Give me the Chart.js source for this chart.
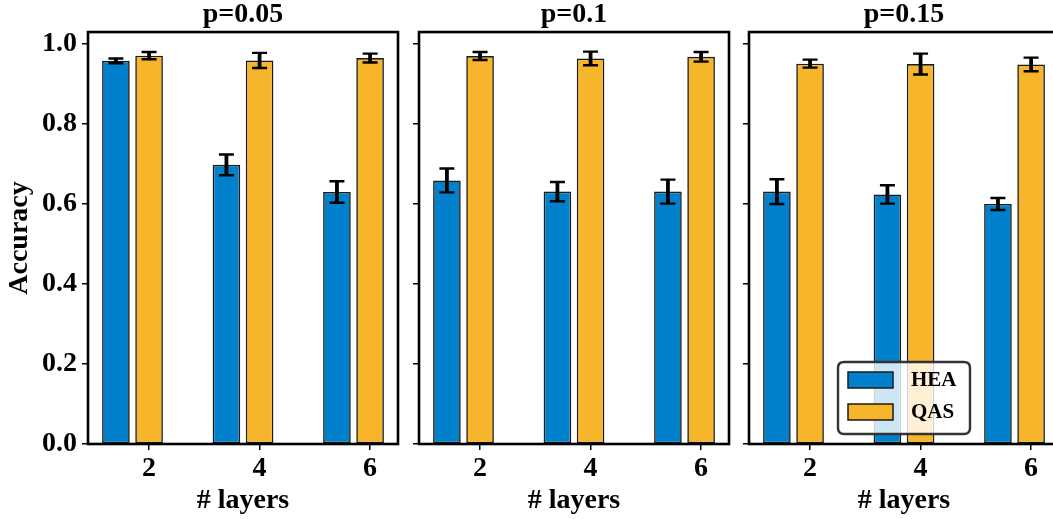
<!DOCTYPE html>
<html>
<head>
<meta charset="utf-8">
<script src="https://cdn.jsdelivr.net/npm/chart.js@4.4.1/dist/chart.umd.min.js"></script>
<style>
  html, body { margin: 0; padding: 0; background: #ffffff; }
  #wrap { position: relative; width: 1053px; height: 519px; overflow: hidden; background: #ffffff; }
  canvas { position: absolute; top: 0; }
</style>
</head>
<body>
<div id="wrap">
  <canvas id="c0" width="410" height="519" style="left:0px"></canvas>
  <canvas id="c1" width="330" height="519" style="left:410px"></canvas>
  <canvas id="c2" width="330" height="519" style="left:740px"></canvas>
</div>
<script>
// ---------------- data ----------------
const layers = [2, 4, 6];
const seriesNames = ['HEA', 'QAS'];
const panelTitles = ['p=0.05', 'p=0.1', 'p=0.15'];
const yTicks = [0.0, 0.2, 0.4, 0.6, 0.8, 1.0];
const xTicks = [2, 4, 6];

const heaP005 = [0.958, 0.698, 0.630];
const heaErrP005 = [0.006, 0.026, 0.027];
const qasP005 = [0.971, 0.959, 0.965];
const qasErrP005 = [0.009, 0.019, 0.011];

const heaP010 = [0.659, 0.631, 0.631];
const heaErrP010 = [0.030, 0.024, 0.030];
const qasP010 = [0.970, 0.964, 0.968];
const qasErrP010 = [0.010, 0.017, 0.012];

const heaP015 = [0.631, 0.624, 0.600];
const heaErrP015 = [0.031, 0.023, 0.015];
const qasP015 = [0.951, 0.950, 0.949];
const qasErrP015 = [0.010, 0.026, 0.017];

// ---------------- style ----------------
const FONT = "'Liberation Serif', 'Times New Roman', Times, serif";
const BLUE = '#0181CB';
const ORANGE = '#F7B52C';
const EDGE = '#1a1a1a';
const OFFSETS = [-0.6, 0.0];   // bar offset from layer value (in x units)
const Y_MAX = 1.03;
const X_MIN = 0.895, X_MAX = 6.505;

Chart.defaults.font.family = FONT;
Chart.defaults.font.weight = 'bold';
Chart.defaults.color = '#000';

const errorBarPlugin = {
  id: 'errorBars',
  afterDatasetsDraw(chart) {
    const ctx = chart.ctx;
    const yScale = chart.scales.y;
    ctx.save();
    ctx.strokeStyle = '#000';
    chart.data.datasets.forEach((ds, d) => {
      const meta = chart.getDatasetMeta(d);
      meta.data.forEach((bar, i) => {
        const v = ds.data[i].y;
        const e = ds.errors[i];
        const yT = yScale.getPixelForValue(v + e);
        const yB = yScale.getPixelForValue(v - e);
        const x = bar.x;
        ctx.lineWidth = 3.8;
        ctx.beginPath();
        ctx.moveTo(x, yT); ctx.lineTo(x, yB);
        ctx.stroke();
        ctx.lineWidth = 2.4;
        ctx.beginPath();
        ctx.moveTo(x - 7.5, yT); ctx.lineTo(x + 7.5, yT);
        ctx.moveTo(x - 7.5, yB); ctx.lineTo(x + 7.5, yB);
        ctx.stroke();
      });
    });
    ctx.restore();
  }
};

const framePlugin = {
  id: 'frame',
  afterDraw(chart) {
    const a = chart.chartArea;
    const ctx = chart.ctx;
    ctx.save();
    ctx.strokeStyle = '#000';
    ctx.lineWidth = 2.6;
    ctx.strokeRect(a.left, a.top, a.right - a.left, a.bottom - a.top);
    ctx.restore();
    const opt = chart.options.plugins.innerLegend;
    if (opt && opt.show) drawLegend(chart);
  }
};

function roundRect(ctx, x, y, w, h, r) {
  ctx.beginPath();
  ctx.moveTo(x + r, y);
  ctx.lineTo(x + w - r, y);
  ctx.quadraticCurveTo(x + w, y, x + w, y + r);
  ctx.lineTo(x + w, y + h - r);
  ctx.quadraticCurveTo(x + w, y + h, x + w - r, y + h);
  ctx.lineTo(x + r, y + h);
  ctx.quadraticCurveTo(x, y + h, x, y + h - r);
  ctx.lineTo(x, y + r);
  ctx.quadraticCurveTo(x, y, x + r, y);
  ctx.closePath();
}

function drawLegend(chart) {
  const a = chart.chartArea;
  const ctx = chart.ctx;
  const w = 132, h = 72;
  const cx = (a.left + a.right) / 2;
  const x = cx - w / 2;
  const y = a.bottom - 10 - h;
  ctx.save();
  roundRect(ctx, x, y, w, h, 6);
  ctx.fillStyle = 'rgba(255,255,255,0.8)';
  ctx.fill();
  ctx.lineWidth = 2.4;
  ctx.strokeStyle = '#333';
  ctx.stroke();
  const colors = [BLUE, ORANGE];
  chart.data.datasets.forEach((ds, i) => {
    const hy = y + 10 + i * 32;
    ctx.fillStyle = colors[i];
    ctx.fillRect(x + 10, hy, 45, 16);
    ctx.lineWidth = 1.5;
    ctx.strokeStyle = EDGE;
    ctx.strokeRect(x + 10, hy, 45, 16);
    ctx.fillStyle = '#000';
    ctx.font = "bold 21px " + FONT;
    ctx.textBaseline = 'middle';
    ctx.textAlign = 'left';
    ctx.fillText(ds.label, x + 73, hy + 9);
  });
  ctx.restore();
}

function makePanel(canvasId, idx, hea, heaErr, qas, qasErr) {
  const first = idx === 0;
  const last = idx === 2;
  const yAxisWidth = first ? 88 : 9;
  const rightPad = first ? 12 : 11;
  const seriesVals = [hea, qas];
  const seriesErrs = [heaErr, qasErr];
  const colors = [BLUE, ORANGE];
  const datasets = seriesNames.map((name, s) => ({
    label: name,
    data: layers.map((l, i) => ({ x: l + OFFSETS[s], y: seriesVals[s][i] })),
    errors: seriesErrs[s],
    backgroundColor: colors[s],
    borderColor: EDGE,
    borderWidth: 1.6,
    borderSkipped: false,
    grouped: false,
    categoryPercentage: 1.0,
    barPercentage: 0.5 / 0.6
  }));
  return new Chart(document.getElementById(canvasId), {
    type: 'bar',
    data: { datasets },
    plugins: [errorBarPlugin, framePlugin],
    options: {
      responsive: false,
      maintainAspectRatio: false,
      animation: false,
      devicePixelRatio: 1,
      layout: { padding: { left: 0, right: rightPad, top: 0, bottom: 0 } },
      plugins: {
        legend: { display: false },
        tooltip: { enabled: false },
        title: {
          display: true,
          text: panelTitles[idx],
          fullSize: false,
          color: '#000',
          font: { size: 28, weight: 'bold', family: FONT, lineHeight: 0.93 },
          padding: { top: 2, bottom: 4 }
        },
        innerLegend: { show: last }
      },
      scales: {
        x: {
          type: 'linear',
          min: X_MIN,
          max: X_MAX,
          offset: false,
          afterBuildTicks: (scale) => { scale.ticks = xTicks.map(v => ({ value: v })); },
          afterFit: (scale) => { scale.height = 75; },
          ticks: {
            color: '#000',
            font: { size: 28, weight: 'bold', family: FONT },
            padding: 2,
            maxRotation: 0,
            callback: (v) => String(v)
          },
          grid: { display: true, offset: false, drawOnChartArea: false, drawTicks: true, tickLength: 6, color: '#000', lineWidth: 1.5 },
          border: { display: false },
          title: {
            display: true,
            text: '# layers',
            color: '#000',
            font: { size: 28, weight: 'bold', family: FONT },
            padding: { top: 0, bottom: 1 }
          }
        },
        y: {
          type: 'linear',
          min: 0,
          max: Y_MAX,
          afterBuildTicks: (scale) => { scale.ticks = yTicks.map(v => ({ value: v })); },
          afterFit: (scale) => { scale.width = yAxisWidth; },
          ticks: {
            display: first,
            color: '#000',
            font: { size: 28, weight: 'bold', family: FONT },
            padding: 5,
            callback: (v) => Number(v).toFixed(1)
          },
          grid: { display: true, drawOnChartArea: false, drawTicks: true, tickLength: 6, color: '#000', lineWidth: 1.5 },
          border: { display: false },
          title: {
            display: first,
            text: 'Accuracy',
            color: '#000',
            font: { size: 28, weight: 'bold', family: FONT },
            padding: { top: 2.5, bottom: 0 }
          }
        }
      }
    }
  });
}

makePanel('c0', 0, heaP005, heaErrP005, qasP005, qasErrP005);
makePanel('c1', 1, heaP010, heaErrP010, qasP010, qasErrP010);
makePanel('c2', 2, heaP015, heaErrP015, qasP015, qasErrP015);
</script>
</body>
</html>
